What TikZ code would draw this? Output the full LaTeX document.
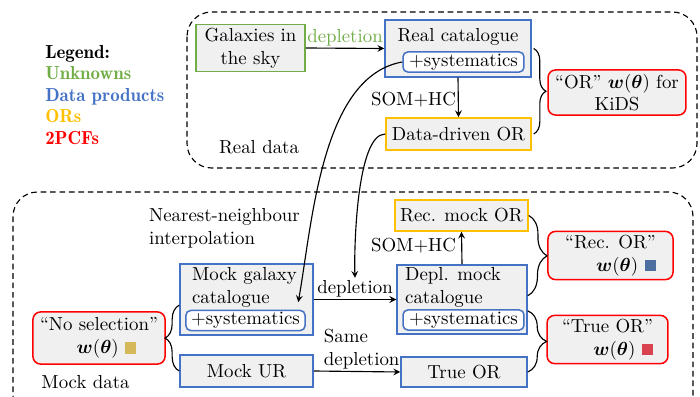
\documentclass[tikz,border=0pt]{standalone}
\usepackage{bm}
\usetikzlibrary{arrows,positioning,decorations.pathreplacing}
\usepackage{xcolor}

\definecolor{unkgreen}{RGB}{112,173,71}
\definecolor{prodblue}{RGB}{68,114,196}
\definecolor{oryellow}{RGB}{255,192,0}
\definecolor{pcfred}{RGB}{255,0,0}
\definecolor{nosqgold}{RGB}{212,184,90}
\definecolor{recsqblue}{RGB}{78,110,160}
\definecolor{truesqred}{RGB}{217,67,79}

\newcommand{\wsquare}[1]{\textcolor{#1}{\rule{6pt}{6pt}}}

\begin{document}
\begin{tikzpicture}[x=0.53pt, y=-0.53pt, >=stealth,
    box/.style={
        rectangle,
        draw,
        line width=0.8pt,
        fill=black!6,
        inner sep=2pt
    },
    unknown/.style={box, draw=unkgreen},
    product/.style={box, draw=prodblue},
    orbox/.style={box, draw=oryellow},
    pcf/.style={box, draw=pcfred, rounded corners=4pt},
    sysbox/.style={rectangle, draw=prodblue, line width=0.8pt, fill=white,
        rounded corners=2.5pt, inner sep=1pt},
    lbl/.style={inner sep=1pt},
    region/.style={dash pattern=on 3pt off 2pt, semithick, rounded corners=13pt},
    brc/.style={decorate, decoration={brace, amplitude=#1}, semithick},
    link/.style={->, semithick}
]
    \useasboundingbox (0,0) rectangle (700,397);
    \clip (0,0) rectangle (700,397);

    %legend
    \node (legend) [lbl, anchor=west, align=left, font=\fontseries{b}\selectfont, shift={(43,95)}]
    {
        Legend:\\[-0.6pt]
        \textcolor{unkgreen}{Unknowns}\\[-0.6pt]
        \textcolor{prodblue}{Data products}\\[-0.6pt]
        \textcolor{oryellow}{ORs}\\[-0.6pt]
        \textcolor{pcfred}{2PCFs}
    };

    %real data
    \draw[region] (187,12) rectangle (697,168);

    \node (galaxies) [unknown, align=center, minimum width=57.8pt, minimum height=24.4pt, shift={(250.5,48)}]
    {
        Galaxies in\\the sky
    };
    \node (realcat) [product, minimum width=77.4pt, minimum height=30.2pt, shift={(458,48.5)}] {};
    \node (realcat_title) [lbl, shift={(458,37)}]
    {
        Real catalogue
    };
    \node (realcat_sys) [sysbox, minimum width=64.1pt, minimum height=10.6pt, shift={(463.5,62)}]
    {
        $+$systematics
    };
    \node (datadriven_or) [orbox, minimum width=76.9pt, minimum height=17pt, shift={(458.5,134)}]
    {
        Data-driven OR
    };
    \node (kids_pcf) [pcf, align=center, minimum width=73.1pt, minimum height=23.9pt, shift={(617,92.5)}]
    {
        ``OR'' $\bm{w}(\bm{\theta})$ for\\KiDS
    };
    \node (somhc_real) [lbl, shift={(413.5,100)}]
    {
        SOM+HC
    };
    \node (real_data) [lbl, shift={(259,147)}]
    {
        Real data
    };

    %mock data
    \draw[region] (13,192) rectangle (693,420);

    \node (nn_interp) [lbl, align=left, shift={(224.5,228.5)}]
    {
        Nearest-neighbour\\interpolation
    };
    \node (recmock_or) [orbox, minimum width=70.5pt, minimum height=16.4pt, shift={(461.5,215.5)}]
    {
        Rec. mock OR
    };
    \node (mockgal) [product, minimum width=70.5pt, minimum height=37.6pt, shift={(246.5,299.5)}] {};
    \node (mockgal_title) [lbl, align=left, shift={(244.5,287.5)}]
    {
        Mock galaxy\\catalogue
    };
    \node (mockgal_sys) [sysbox, minimum width=63.1pt, minimum height=10.1pt, shift={(245.5,320.5)}]
    {
        $+$systematics
    };
    \node (deplmock) [product, minimum width=68.9pt, minimum height=36.6pt, shift={(462,299.5)}] {};
    \node (deplmock_title) [lbl, align=left, shift={(453,287.5)}]
    {
        Depl. mock\\catalogue
    };
    \node (deplmock_sys) [sysbox, minimum width=64.1pt, minimum height=10.6pt, shift={(463.5,320)}]
    {
        $+$systematics
    };
    \node (mock_ur) [product, minimum width=70.5pt, minimum height=17pt, shift={(246.5,371)}]
    {
        Mock UR
    };
    \node (true_or) [product, minimum width=66.8pt, minimum height=15.9pt, shift={(464,372)}]
    {
        True OR
    };
    \node (nosel_pcf) [pcf, align=center, minimum width=70pt, minimum height=27.6pt, shift={(99,338)}]
    {
        ``No selection''\\\hspace*{8pt}$\bm{w}(\bm{\theta})$ \wsquare{nosqgold}
    };
    \node (rec_pcf) [pcf, align=right, minimum width=66.3pt, minimum height=23.9pt, shift={(610.5,255.5)}]
    {
        ``Rec. OR''\\$\bm{w}(\bm{\theta})$ \wsquare{recsqblue}
    };
    \node (true_pcf) [pcf, align=right, minimum width=64.1pt, minimum height=23.9pt, shift={(607.5,339.5)}]
    {
        ``True OR''\\$\bm{w}(\bm{\theta})$ \wsquare{truesqred}
    };
    \node (somhc_mock) [lbl, shift={(413.5,246)}]
    {
        SOM+HC
    };
    \node (mock_data) [lbl, shift={(85.5,382)}]
    {
        Mock data
    };

    %real data
    \draw[link] (galaxies.east) to node[lbl, above, text=unkgreen] (depl_real) {depletion} (realcat.west);
    \draw[link] (realcat.south) to (datadriven_or.north);
    \draw[brc=6.5pt] ([xshift=1pt]realcat.east) to ([xshift=1pt]datadriven_or.east);

    %mock data
    \draw[link] (mockgal.east) to node[lbl, above] (depl_mock) {depletion} (deplmock.west);
    \draw[link] (mock_ur.east) to node[lbl, above, align=left, xshift=2.5pt] (same_depl) {Same\\depletion} (true_or.west);
    \draw[link] (deplmock.north) to (recmock_or.south);
    \draw[brc=7.5pt] (mock_ur.west) to ([yshift=-3pt]mockgal.west);
    \draw[brc=10pt] (recmock_or.east) to ([yshift=2pt]deplmock.east);
    \draw[brc=10pt] ([yshift=-6pt]deplmock.east) to (true_or.east);

    %real to mock
    \draw[link] (realcat_sys.west) to[out=190, in=80, looseness=0.8] ([xshift=-4pt, yshift=4pt]mockgal_sys.north east);
    \draw[link] (datadriven_or.west) to[out=180, in=92, looseness=0.5] (depl_mock.north);

\end{tikzpicture}
\end{document}
